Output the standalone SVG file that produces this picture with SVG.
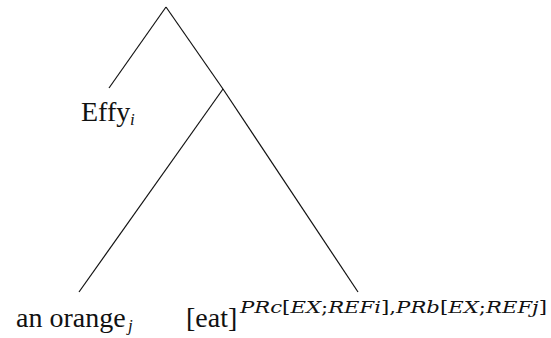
<svg xmlns="http://www.w3.org/2000/svg" width="551" height="338" viewBox="0 0 551 338">
<style>
.e{stroke:#111;stroke-width:1.2;fill:none}
.t{font-family:"Liberation Serif","DejaVu Serif",serif;font-size:28px;fill:#111}
.s{font-family:"Liberation Serif","DejaVu Serif",serif;font-size:17px;font-style:italic;fill:#111}
.m{font-family:"DejaVu Serif","Liberation Serif",serif;font-size:16px;font-style:italic;fill:#111}
.u{font-style:normal}
</style>
<rect width="551" height="338" fill="#fff"/>
<g id="connectors">
<line class="e" x1="166" y1="7" x2="109" y2="88"/>
<line class="e" x1="166" y1="7" x2="223" y2="89"/>
<line class="e" x1="223" y1="89" x2="79" y2="292"/>
<line class="e" x1="223" y1="89" x2="358" y2="292"/>
</g>
<g id="effy"><text class="t" x="81" y="121">Effy</text><text class="s" x="130" y="125">i</text></g>
<g id="orange"><text class="t" x="16" y="327">an orange</text><text class="s" x="128" y="331">j</text></g>
<g id="eat"><text class="t" x="186" y="327">[eat]</text><text class="m" x="240" y="313" textLength="307" lengthAdjust="spacingAndGlyphs">PRc<tspan class="u">[</tspan>EX<tspan class="u">;</tspan>REFi<tspan class="u">],</tspan>PRb<tspan class="u">[</tspan>EX<tspan class="u">;</tspan>REFj<tspan class="u">]</tspan></text></g>
</svg>
